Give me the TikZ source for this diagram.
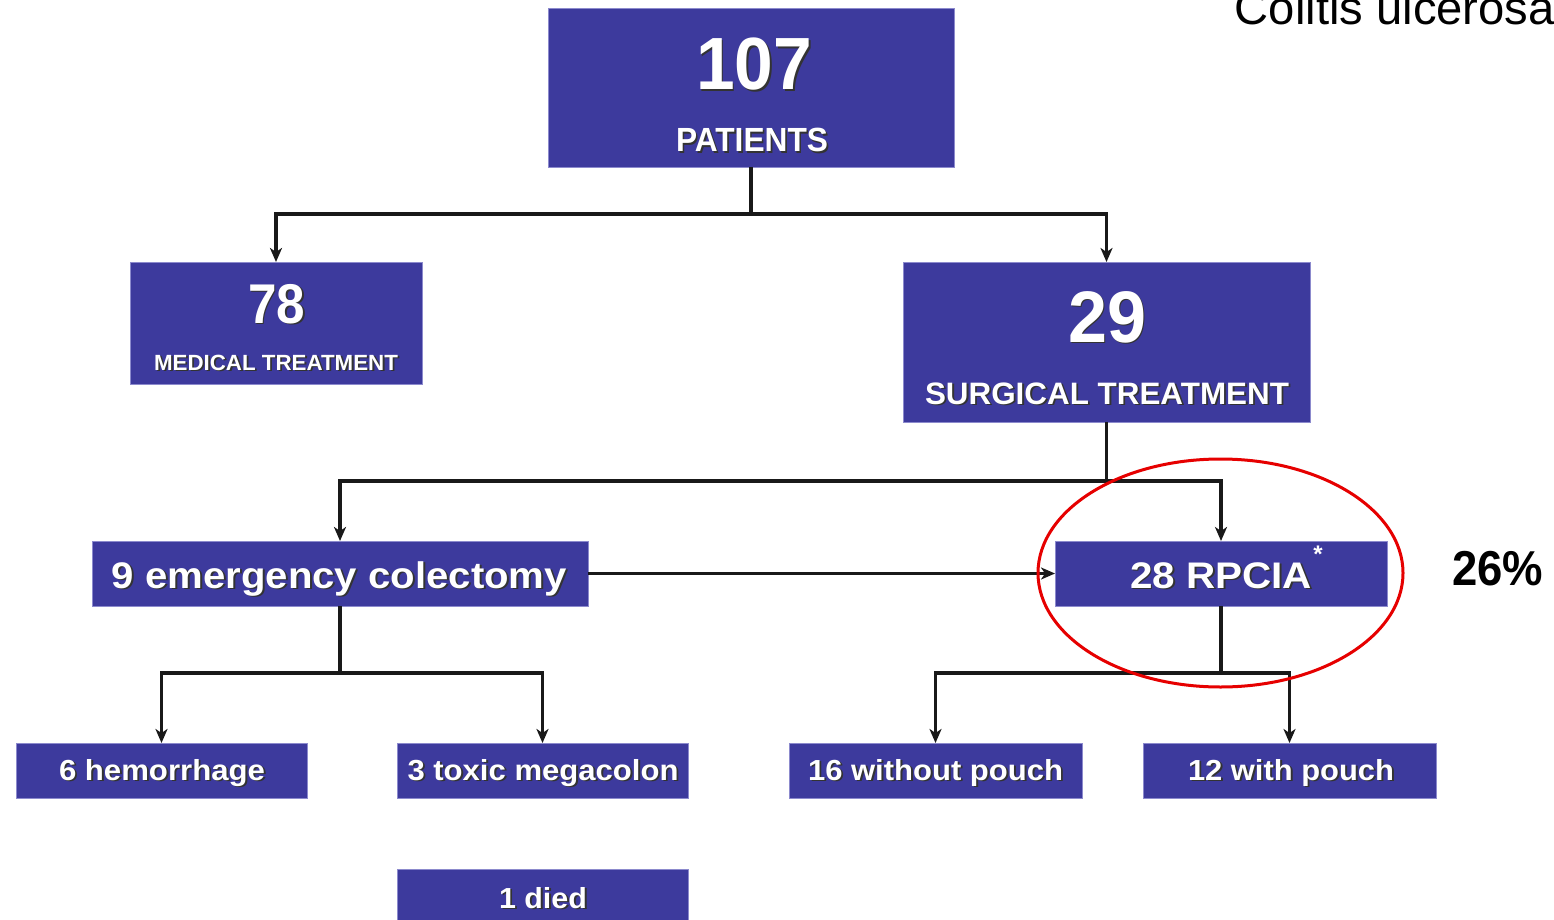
\documentclass[tikz,border=0pt]{standalone}
\usepackage{fontspec}
\setmainfont{Liberation Sans}
\usepackage{graphicx}
\usetikzlibrary{arrows.meta}
\definecolor{boxblue}{RGB}{61,58,157}
\definecolor{boxedge}{RGB}{140,138,205}
\definecolor{ringred}{RGB}{230,0,0}
\newcommand\shd[1]{\makebox[0pt][l]{\kern1.8pt\raisebox{-1.8pt}{\color{black!80}#1}}#1}
\newcommand\fs[3]{{\fontsize{#1}{#1}\selectfont\bfseries\resizebox{#2pt}{\height}{\shd{#3}}}}
\tikzset{
  box/.style={fill=boxblue, draw=boxedge, line width=0.8pt, inner sep=0pt, outer sep=0pt},
  txt/.style={text=white, inner sep=0pt, anchor=base},
  link/.style={draw=black!90, line width=3.5pt},
  arr/.style={link, -{Stealth[length=14pt,width=12pt,inset=4pt]}}
}
\begin{document}
\begin{tikzpicture}[x=1pt,y=-1pt]
\useasboundingbox (0,0) rectangle (1554,920);
\clip (0,0) rectangle (1554,920);
\fill[white] (0,0) rectangle (1554,920);

% boxes
\node[box, minimum width=406, minimum height=159] (b107) at (751,87.5) {};
\node[box, minimum width=292, minimum height=122] (b78) at (276,323) {};
\node[box, minimum width=407, minimum height=160] (b29) at (1106.5,342) {};
\node[box, minimum width=496, minimum height=65] (b9) at (340,573.5) {};
\node[box, minimum width=332, minimum height=65] (bR) at (1221,573.5) {};
\node[box, minimum width=291, minimum height=55] (b6) at (161.5,770.5) {};
\node[box, minimum width=291, minimum height=55] (b3) at (542.5,770.5) {};
\node[box, minimum width=293, minimum height=55] (b16) at (935.5,770.5) {};
\node[box, minimum width=293, minimum height=55] (b12) at (1289.5,770.5) {};
\node[box, minimum width=291, minimum height=70] (b1) at (542.5,904) {};

% texts
\node[txt] (t107) at (754,90) {\fs{74}{116}{107}};
\node[txt] (tpat) at (752,152) {\fs{33.5}{152}{PATIENTS}};
\node[txt] (t78) at (276.5,323) {\fs{56}{57}{78}};
\node[txt] (tmed) at (276,370) {\fs{22}{244}{MEDICAL TREATMENT}};
\node[txt] (t29) at (1107,342) {\fs{73}{78}{29}};
\node[txt] (tsur) at (1107,404) {\fs{31}{364}{SURGICAL TREATMENT}};
\node[txt] (t9) at (339.5,588) {\fs{37}{455}{9 emergency colectomy}};
\node[txt] (tR) at (1221,588) {\fs{37}{182}{28 RPCIA}};
\node[text=white, inner sep=0pt, anchor=north] (tast) at (1318,546) {\fontsize{24}{24}\selectfont\bfseries *};
\node[txt] (t6) at (162,780) {\fs{29}{206}{6 hemorrhage}};
\node[txt] (t3) at (543,780) {\fs{29}{271}{3 toxic megacolon}};
\node[txt] (t16) at (935.5,780) {\fs{29}{255}{16 without pouch}};
\node[txt] (t12) at (1291,780) {\fs{29}{206}{12 with pouch}};
\node[txt] (t1) at (543,908) {\fs{29}{88}{1 died}};
\node[inner sep=0pt, anchor=base] (tpct) at (1497.5,585) {\fontsize{49}{49}\selectfont\bfseries\resizebox{91pt}{\height}{26\%}};
\node[inner sep=0pt, anchor=base east] (tcol) at (1555,25) {\fontsize{47}{47}\selectfont\resizebox{320pt}{\height}{Colitis ulcerosa}};

% junctions
\coordinate (j1) at (751,214);
\coordinate (j2) at (1106.5,481);
\coordinate (j3) at (340,673);
\coordinate (j4) at (1221,673);

% connectors
\draw[link] (b107.south) -- (j1);
\draw[arr] (j1) -| (b78.north);
\draw[arr] (j1) -| (b29.north);
\draw[link] (b29.south) -- (j2);
\draw[arr] (j2) -| (b9.north);
\draw[arr] (j2) -| (bR.north);
\draw[arr] (b9.east) -- (bR.west);
\draw[link] (b9.south) -- (j3);
\draw[arr] (j3) -| (b6.north);
\draw[arr] (j3) -| (b3.north);
\draw[link] (bR.south) -- (j4);
\draw[arr] (j4) -| (b16.north);
\draw[arr] (j4) -| (b12.north);

% ring
\draw[ringred, line width=3pt] (1220.5,573) ellipse [x radius=182.5, y radius=114];
\end{tikzpicture}
\end{document}
